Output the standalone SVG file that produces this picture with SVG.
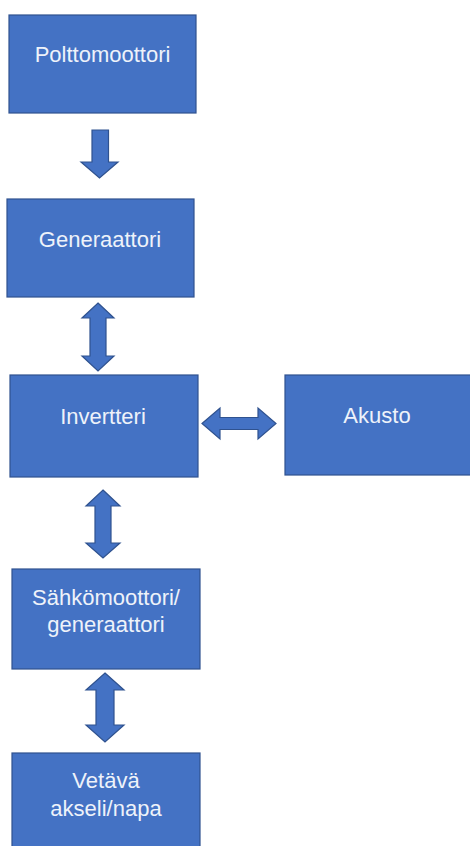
<svg xmlns="http://www.w3.org/2000/svg" width="470" height="846" viewBox="0 0 470 846">
<style>
.box{fill:#4472C4;stroke:#2F528F;stroke-width:1.2}
.arr{fill:#4472C4;stroke:#2F528F;stroke-width:1.2;stroke-linejoin:miter}
.lbl{font-family:"Liberation Sans",Arial,sans-serif;font-size:22px;fill:#EEF2FA;text-anchor:middle}
</style>
<rect width="470" height="846" fill="#FFFFFF"/>
<g id="connectors">
<polygon class="arr" points="92,130 108.5,130 108.5,162 118,162 99.5,178 81,162 92,162"/>
<polygon class="arr" points="98,303 114,318 106,318 106,356 114,356 98,371 82,356 90,356 90,318 82,318"/>
<polygon class="arr" points="202,423.5 220,408 220,417.5 258,417.5 258,408 276,423.5 258,439 258,429.5 220,429.5 220,439"/>
<polygon class="arr" points="103,490 120,506 111,506 111,543 120,543 103,558 86,543 95,543 95,506 86,506"/>
<polygon class="arr" points="105,673 124,690 114,690 114,725 124,725 105,742 86,725 96,725 96,690 86,690"/>
</g>
<g id="polttomoottori">
<rect class="box" x="9" y="15" width="187" height="98"/>
<text class="lbl" x="102.5" y="62">Polttomoottori</text>
</g>
<g id="generaattori">
<rect class="box" x="7" y="199" width="187" height="98"/>
<text class="lbl" x="100" y="247">Generaattori</text>
</g>
<g id="invertteri">
<rect class="box" x="10" y="375" width="188" height="102"/>
<text class="lbl" x="103" y="424">Invertteri</text>
</g>
<g id="akusto">
<rect class="box" x="285" y="375" width="190" height="100"/>
<text class="lbl" x="377" y="423">Akusto</text>
</g>
<g id="sahkomoottori">
<rect class="box" x="12" y="569" width="188" height="100"/>
<text class="lbl" x="106" y="605">Sähkömoottori/</text>
<text class="lbl" x="106" y="632">generaattori</text>
</g>
<g id="vetava">
<rect class="box" x="12" y="753" width="188" height="100"/>
<text class="lbl" x="106" y="788">Vetävä</text>
<text class="lbl" x="106" y="816">akseli/napa</text>
</g>
</svg>
